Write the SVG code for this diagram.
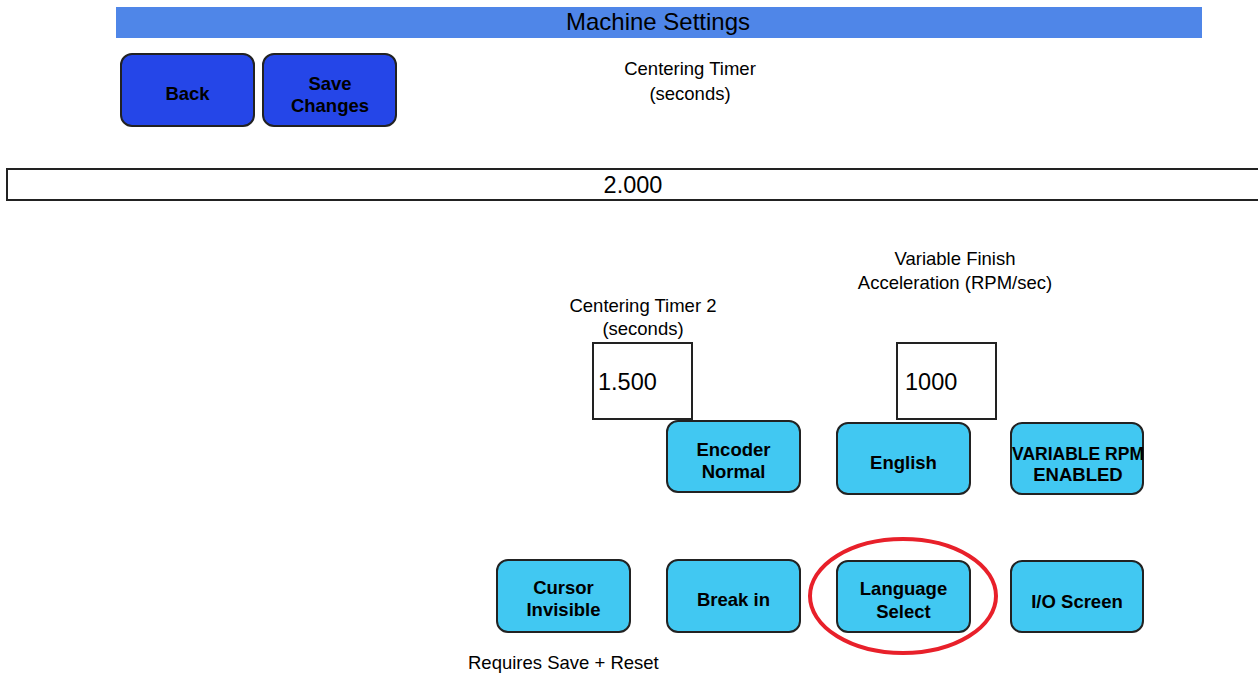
<svg xmlns="http://www.w3.org/2000/svg" width="1258" height="675" viewBox="0 0 1258 675">
<style>
text{font-family:"Liberation Sans",Arial,sans-serif;fill:#000}
.lbl{font-size:18.500px;text-anchor:middle}
.btn{font-size:18.500px;font-weight:bold;text-anchor:middle}
.dark{fill:#2546e8;stroke:#222;stroke-width:2}
.light{fill:#41c8f2;stroke:#222;stroke-width:2}
.inp{fill:#fff;stroke:#222;stroke-width:2}
.val{font-size:23.500px}
</style>
<rect width="1258" height="675" fill="#fff"/>
<g id="title">
<rect x="116" y="7" width="1086" height="31" fill="#4f86e8"/>
<text x="658" y="30" font-size="24" text-anchor="middle">Machine Settings</text>
</g>
<g id="back"><rect class="dark" x="121" y="54" width="133" height="72" rx="11"/><text class="btn" x="187.500" y="100">Back</text></g>
<g id="save"><rect class="dark" x="263" y="54" width="133" height="72" rx="11"/><text class="btn" x="330" y="90">Save</text><text class="btn" x="330" y="112">Changes</text></g>
<g id="centering-label"><text class="lbl" x="690" y="75">Centering Timer</text><text class="lbl" x="690" y="100">(seconds)</text></g>
<g id="centering-input"><rect class="inp" x="7" y="169" width="1260" height="31"/><text class="val" x="633" y="193" text-anchor="middle">2.000</text></g>
<g id="varfinish-label"><text class="lbl" x="955" y="265">Variable Finish</text><text class="lbl" x="955" y="289">Acceleration (RPM/sec)</text></g>
<g id="centering2-label"><text class="lbl" x="643" y="312">Centering Timer 2</text><text class="lbl" x="643" y="335">(seconds)</text></g>
<g id="centering2-input"><rect class="inp" x="593" y="343" width="99" height="76"/><text class="val" x="598" y="390">1.500</text></g>
<g id="varfinish-input"><rect class="inp" x="897" y="343" width="99" height="76"/><text class="val" x="905" y="390">1000</text></g>
<g id="encoder"><rect class="light" x="667" y="421" width="133" height="71" rx="11"/><text class="btn" x="733.500" y="456">Encoder</text><text class="btn" x="733.500" y="478">Normal</text></g>
<g id="english"><rect class="light" x="837" y="423" width="133" height="71" rx="11"/><text class="btn" x="903.500" y="469">English</text></g>
<g id="variable-rpm"><rect class="light" x="1011" y="423" width="132" height="71" rx="11"/><text class="btn" x="1078" y="460" textLength="132" lengthAdjust="spacingAndGlyphs">VARIABLE RPM</text><text class="btn" x="1078" y="481">ENABLED</text></g>
<g id="cursor"><rect class="light" x="497" y="560" width="133" height="72" rx="11"/><text class="btn" x="563.500" y="594">Cursor</text><text class="btn" x="563.500" y="616">Invisible</text></g>
<g id="breakin"><rect class="light" x="667" y="560" width="133" height="72" rx="11"/><text class="btn" x="733.500" y="606">Break in</text></g>
<g id="language"><rect class="light" x="837" y="561" width="133" height="71" rx="11"/><text class="btn" x="903.500" y="595">Language</text><text class="btn" x="903.500" y="618">Select</text></g>
<g id="io"><rect class="light" x="1011" y="561" width="132" height="71" rx="11"/><text class="btn" x="1077" y="608">I/O Screen</text></g>
<g id="highlight"><ellipse cx="903" cy="596" rx="93" ry="57" fill="none" stroke="#e8202a" stroke-width="4"/></g>
<g id="note"><text x="468" y="669" font-size="18.500">Requires Save + Reset</text></g>
<g id="connectors"></g>
</svg>
